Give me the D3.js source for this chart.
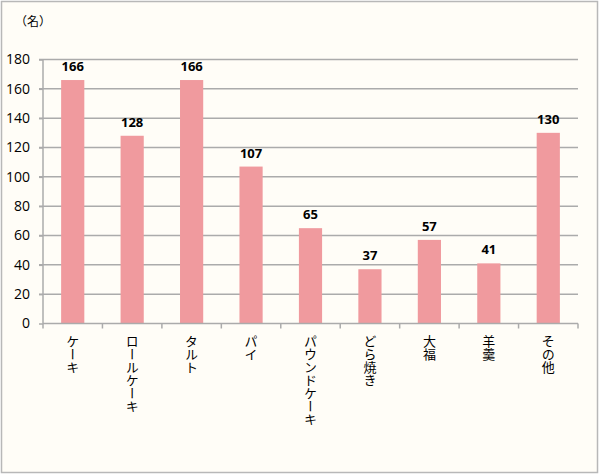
<!DOCTYPE html>
<html><head><meta charset="utf-8">
<script src="https://cdn.jsdelivr.net/npm/d3@7"></script>
<style>
html,body{margin:0;padding:0;background:#fff;}
svg{display:block;}
</style></head>
<body>
<script>
const categories = ["ケーキ","ロールケーキ","タルト","パイ","パウンドケーキ","どら焼き","大福","羊羹","その他"];
const values = [166,128,166,107,65,37,57,41,130];
const yTicks = [0,20,40,60,80,100,120,140,160,180];
const unitLabel = "（名）";

const W = 600, H = 475;
const svg = d3.select("body").append("svg").attr("width", W).attr("height", H);

svg.append("rect").attr("x",1.5).attr("y",1.5).attr("width",W-4).attr("height",H-4)
  .attr("fill","#FFFDF7").attr("stroke","#B8B8B8").attr("stroke-width",1.5);

const x = d3.scaleBand().domain(categories).range([43, 578]).paddingInner(0.61).paddingOuter(0.305);
const xb = d3.scaleBand().domain(categories).range([43, 578]);
const y = d3.scaleLinear().domain([0,180]).range([323.5, 59.5]);

const numFont = "'Open Sans', 'Liberation Sans', sans-serif";
const jpFont = "'Noto Sans CJK JP', sans-serif";

// gridlines
svg.append("g").selectAll("line").data(yTicks.filter(d=>d>0)).join("line")
  .attr("x1",39).attr("x2",578).attr("y1",d=>y(d)).attr("y2",d=>y(d))
  .attr("stroke","#ABABAB").attr("stroke-width",1.5);

// y axis
const yAxis = svg.append("g").attr("transform","translate(43,0)")
  .call(d3.axisLeft(y).tickValues(yTicks).tickSize(4).tickPadding(9));
yAxis.select(".domain").attr("stroke","#ABABAB").attr("stroke-width",1.5).attr("d","M0,59.5V323.5");
yAxis.selectAll(".tick line").attr("stroke","#ABABAB").attr("stroke-width",1.5);
yAxis.selectAll(".tick text").attr("font-family",numFont).attr("font-size",14).attr("fill","#000");

// bars
svg.append("g").selectAll("rect").data(values).join("rect")
  .attr("x",(d,i)=>x(categories[i])).attr("width",x.bandwidth())
  .attr("y",d=>y(d)).attr("height",d=>y(0)-y(d))
  .attr("fill","#F09A9E");

// x axis
const xAxis = svg.append("g").attr("transform","translate(0,323.5)");
xAxis.append("line").attr("x1",43).attr("x2",578).attr("stroke","#ABABAB").attr("stroke-width",1.5);
xAxis.selectAll("line.t").data(categories.concat(["__end"])).join("line").attr("class","t")
  .attr("x1",(d,i)=>i<categories.length?xb(d):578).attr("x2",(d,i)=>i<categories.length?xb(d):578)
  .attr("y1",0).attr("y2",5).attr("stroke","#ABABAB").attr("stroke-width",1.5);

// x labels vertical
svg.append("g").selectAll("text").data(categories).join("text")
  .attr("x",d=>xb(d)+xb.bandwidth()/2).attr("y",335)
  .attr("writing-mode","vertical-rl").attr("text-anchor","start")
  .attr("font-family",jpFont).attr("font-size",13).attr("fill","#000")
  .text(d=>d);

// value labels
svg.append("g").selectAll("text").data(values).join("text")
  .attr("x",(d,i)=>x(categories[i])+x.bandwidth()/2).attr("y",d=>y(d)-9)
  .attr("text-anchor","middle").attr("font-family",numFont).attr("font-weight","bold")
  .attr("font-size",13).attr("fill","#000").text(d=>d);

// unit
svg.append("text").attr("x",15).attr("y",26).attr("font-family",jpFont).attr("font-size",12)
  .attr("fill","#000").text(unitLabel);
</script>
</body></html>
